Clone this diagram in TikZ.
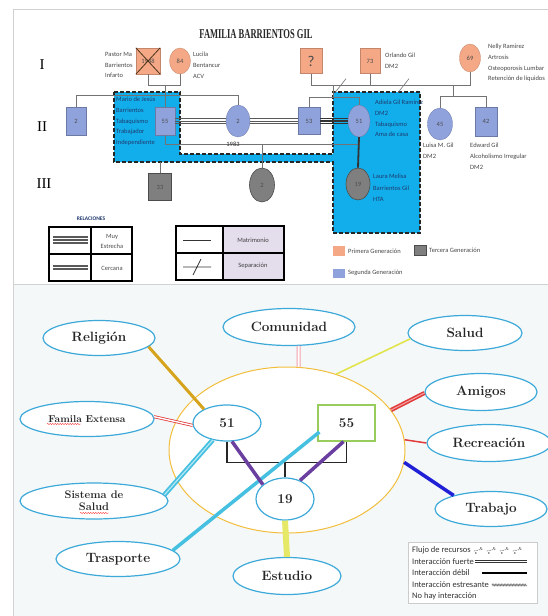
\documentclass[tikz,border=0pt]{standalone}
\usepackage{fontspec}
\newfontfamily\calibri{Carlito}
\newfontfamily\timesfont{Liberation Serif}
\usetikzlibrary{positioning, shapes.geometric, decorations.pathmorphing, calc}

\definecolor{salmon}{HTML}{F4A886}
\definecolor{lilac}{HTML}{8FA2DC}
\definecolor{stone}{HTML}{7F7F7F}
\definecolor{cyanbox}{HTML}{12AEEB}
\definecolor{navy}{HTML}{1F3A6E}
\definecolor{lavender}{HTML}{E4DDEC}
\definecolor{panelbg}{HTML}{F4F8F9}
\definecolor{ecoblue}{HTML}{3DA9D9}
\definecolor{ecogold}{HTML}{F2BE3C}
\definecolor{ecogreen}{HTML}{98CC5C}
\definecolor{relgold}{HTML}{D6A31C}
\definecolor{ecored}{HTML}{E23B3B}
\definecolor{ecopink}{HTML}{F2A2AA}
\definecolor{ecoyellow}{HTML}{E2E44C}
\definecolor{ecoteal}{HTML}{45C0E0}
\definecolor{ecopurple}{HTML}{6B3FA0}
\definecolor{workblue}{HTML}{2020D6}

\newcommand{\notefont}{\calibri\fontsize{6.5}{10.7}\selectfont}
\newcommand{\ecofont}{\bfseries\fontsize{13.5}{14}\selectfont}
\newcommand{\keyfont}{\calibri\fontsize{8.5}{9}\selectfont}

\begin{document}
\begin{tikzpicture}[
    x=1pt, y=-1pt,
    % genogram styles
    person/.style={inner sep=0pt, font=\calibri\fontsize{6.5}{7}\selectfont, text=black!70},
    male/.style={person, rectangle, minimum width=20pt, minimum height=28pt},
    female/.style={person, ellipse, minimum width=24pt, minimum height=32pt},
    gen1/.style={fill=salmon, draw=salmon!80!black, line width=.3pt},
    gen2/.style={fill=lilac, draw=lilac!75!black, line width=.3pt},
    gen3/.style={fill=stone, draw=stone!60!black, line width=.6pt},
    note/.style={anchor=north west, inner sep=0pt, align=left, font=\notefont, text=black!72},
    boxnote/.style={note, text=navy},
    kin/.style={draw=black!55, line width=.6pt},
    close/.style={draw=black!65, line width=.9pt},
    swatch/.style={minimum width=12pt, minimum height=10pt, inner sep=0pt},
    % ecomap styles
    eco/.style={ellipse, draw=ecoblue, line width=1.2pt, fill=white, inner sep=0pt, text=black!85, font=\ecofont, align=center},
    keyline/.style={anchor=west, inner sep=0pt, font=\keyfont, text=black!80}
]
\useasboundingbox (0,0) rectangle (548,616);

% panels
\draw[black!18, fill=white] (13,9) rectangle (560,284.5);
\fill[panelbg] (13,285) rectangle (548,616);
\draw[black!18] (13,285) -- (13,616);

% ---------------- genogram ----------------
\node[text=black!85] (title) at (256,34) {\scalebox{0.63}[1]{\timesfont\bfseries\fontsize{13.5}{14}\selectfont FAMILIA BARRIENTOS GIL}};
\node (genI) at (42,65) {\timesfont\fontsize{15}{15}\selectfont I};
\node (genII) at (42,127) {\timesfont\fontsize{15}{15}\selectfont II};
\node (genIII) at (44,184) {\timesfont\fontsize{15}{15}\selectfont III};

% shaded block round the core couple
\draw[fill=cyanbox, draw=black!85, line width=1.5pt, dash pattern=on 4pt off 2pt]
    (114,92) -- (180,92) -- (180,154) -- (333,154) -- (333,92) -- (420,92)
    -- (420,233) -- (333,233) -- (333,162) -- (114,162) -- cycle;

% first generation
\node[male, gen1, minimum width=24pt, minimum height=26pt] (pastor) at (148,61) {1948};
\node[female, gen1, minimum width=21pt, minimum height=26pt] (lucila) at (180,61) {84};
\node[male, gen1, minimum width=22pt, minimum height=25pt, font=\calibri\fontsize{15}{15}\selectfont] (unknown) at (311,61) {?};
\node[male, gen1, minimum width=20pt, minimum height=25pt] (orlando) at (370,61) {73};
\node[female, gen1, minimum width=21pt, minimum height=28pt] (nelly) at (470,58) {69};
\draw[black!60!brown, line width=.8pt] (pastor.north west) -- (pastor.south east)
    (pastor.north east) -- (pastor.south west);

% second generation
\node[male, gen2] (s2) at (76,121) {2};
\node[male, gen2] (s55) at (165,121) {55};
\node[female, gen2] (f2) at (238,121) {2};
\node[male, gen2, minimum width=22pt, minimum height=27pt] (s53) at (309,121) {53};
\node[female, gen2, minimum width=22pt] (f51) at (359,121) {51};
\node[female, gen2, minimum width=25pt] (f45) at (440,124) {45};
\node[male, gen2, minimum width=22pt, minimum height=29pt] (s42) at (486,121.5) {42};

% third generation
\node[male, gen3, minimum width=23pt, minimum height=27pt] (s33) at (160,187) {33};
\node[female, gen3, minimum width=25pt, minimum height=34pt] (g2) at (262,185) {2};
\node[female, gen3] (g19) at (358,184) {19};

% family lines
\draw[kin] (pastor.south) -- ++(0,11) coordinate (pl) -| (lucila.south);
\draw[kin] (pl -| s55.north) -- (s55.north);
\draw[kin] (s2.north) -- ++(0,-12) -| (f2.north);
\draw[kin] (unknown.south) -- ++(0,12) coordinate (ol) -| (nelly.south);
\draw[kin] (orlando.south) -- (orlando.south |- ol);
\draw[kin] ($(ol)+(24,7)$) -- ++(11,-14);
\draw[kin] ($(ol)+(87,7)$) -- ++(11,-14);
\draw[kin] ($(ol)+(22,0)$) -- ++(0,11.5) coordinate (sb);
\draw[kin] (s53.north) |- (sb) -| (f51.north);
\draw[kin] ($(ol)+(142,0)$) -- ++(0,11) coordinate (nb);
\draw[kin] (f45.north) |- (nb) -| (s42.north);
\draw[kin] (s55.south) -- ++(0,9) coordinate (ml) -| (f51.south);
\draw[kin] (g2.north) -- (g2.north |- ml);
\draw[line width=1.8pt, black!80] (f51.south) -- (g19.north);
\coordinate (boxfoot) at (160,162);
\draw[kin] (boxfoot) -- (s33.north);
\foreach \d in {-2.6,0,2.6} {
    \draw[close] ([yshift=\d pt]s55.east) -- ([yshift=\d pt]f2.west);
    \draw[close] ([yshift=\d pt]f2.east) -- ([yshift=\d pt]s53.west);
    \draw[close, draw=black!80, line width=1.2pt] ([yshift=\d pt]s53.east) -- ([yshift=\d pt]f51.west);
}
\node[person, text=black!80] (year) at (233,144) {1983};

% names and conditions
\node[note] (pastorinfo) at (105,52) {Pastor Ma\\Barrientos\\Infarto};
\node[note] (lucilainfo) at (193,52) {Lucila\\Bentancur\\ACV};
\node[note] (orlandoinfo) at (385,53) {Orlando Gil\\DM2};
\node[note] (nellyinfo) at (488,44) {Nelly Ramirez\\Artrosis\\Osteoporosis Lumbar\\Retención de líquidos};
\node[boxnote] (marioinfo) at (116,97) {Mario de Jesús\\Barrientos\\Tabaquismo\\Trabajador\\Independiente};
\node[boxnote] (adielainfo) at (375,100) {Adiela Gil Ramírez\\DM2\\Tabaquismo\\Ama de casa};
\node[note] (luisainfo) at (423,143) {Luisa M. Gil\\DM2};
\node[note] (edwardinfo) at (470,143) {Edward Gil\\Alcoholismo Irregular\\DM2};
\node[boxnote, font=\calibri\fontsize{6.5}{11.5}\selectfont] (laurainfo) at (373,174) {Laura Melisa\\Barrientos Gil\\HTA};

% relations key
\node[font=\calibri\bfseries\fontsize{5.5}{6}\selectfont, text=navy] (relkey) at (91,219) {RELACIONES};
\draw[line width=1.3pt] (49,227) rectangle (132,281) (91,227) -- (91,281) (49,254) -- (132,254);
\foreach \y in {237,240,243} \draw[black!65, line width=1.1pt] (53,\y) -- (88,\y);
\foreach \y in {266,269} \draw[black!65, line width=1.1pt] (53,\y) -- (88,\y);
\node[font=\calibri\fontsize{6.5}{10}\selectfont, text=black!70, align=center] (muy) at (112,241) {Muy\\Estrecha};
\node[font=\calibri\fontsize{6.5}{7}\selectfont, text=black!70] (cercana) at (112,268) {Cercana};

\fill[lavender] (223,226) rectangle (284,280);
\draw[line width=1.3pt] (176,226) rectangle (284,280) (223,226) -- (223,280) (176,253) -- (284,253);
\draw[black!80, line width=.8pt] (183,240) -- (211,240);
\draw[black!80, line width=.8pt] (183,267) -- (211,267) (193,275) -- (201,259);
\node[font=\calibri\fontsize{6.5}{7}\selectfont, text=black!75] (matri) at (253,240) {Matrimonio};
\node[font=\calibri\fontsize{6.5}{7}\selectfont, text=black!75] (separa) at (253,266) {Separación};

% generation key
\node[swatch, fill=salmon] (firstsw) at (339,251) {};
\node[note, anchor=west] (firstkey) at (348,251) {Primera Generación};
\node[swatch, fill=stone, draw=stone!60!black] (thirdsw) at (420,250.5) {};
\node[note, anchor=west] (thirdkey) at (429,250) {Tercera Generación};
\node[swatch, fill=lilac, minimum height=9pt] (secondsw) at (339,273.5) {};
\node[note, anchor=west] (secondkey) at (348,273) {Segunda Generación};

% ---------------- ecomap ----------------
\node[ellipse, draw=ecogold, line width=1pt, fill=white, minimum width=236pt, minimum height=166pt] (ring) at (287,450) {};

\node[eco, minimum width=112pt, minimum height=35pt] (relig) at (99,338) {Religión};
\node[eco, minimum width=134pt, minimum height=35pt, font=\bfseries\fontsize{10}{11}\selectfont] (famext) at (87,419) {Famila Extensa};
\node[eco, minimum width=132pt, minimum height=37pt] (comun) at (289,327) {Comunidad};
\node[eco, minimum width=114pt, minimum height=35pt] (salud) at (465,333) {Salud};
\node[eco, minimum width=112pt, minimum height=37pt] (amigos) at (481,392) {Amigos};
\node[eco, minimum width=124pt, minimum height=37pt] (recre) at (489,443) {Recreación};
\node[eco, minimum width=112pt, minimum height=35pt] (trabajo) at (491,509) {Trabajo};
\node[eco, minimum width=108pt, minimum height=37pt] (estudio) at (287,576) {Estudio};
\node[eco, minimum width=124pt, minimum height=35pt] (traspo) at (118,559) {Trasporte};
\node[eco, minimum width=148pt, minimum height=36pt, font=\bfseries\fontsize{11}{12}\selectfont] (sissal) at (94,501) {Sistema de\\Salud};
\node[eco, minimum width=68pt, minimum height=36pt] (n51) at (227,423) {51};
\node[rectangle, draw=ecogreen, line width=1.2pt, fill=white, minimum width=57pt, minimum height=36pt, font=\ecofont, text=black!85] (n55) at (346.5,423) {55};
\node[eco, minimum width=58pt, minimum height=42pt] (n19) at (285,499) {19};

% spelling marks under the text
\draw[red!80, line width=.4pt, decorate, decoration={snake, amplitude=.6pt, segment length=2.5pt}]
    ([shift={(-40,5)}]famext.center) -- ([shift={(-6,5)}]famext.center);
\draw[red!80, line width=.4pt, decorate, decoration={snake, amplitude=.6pt, segment length=2.5pt}]
    ([shift={(-14,12)}]sissal.center) -- ([shift={(15,12)}]sissal.center);

% household
\draw[black!85, line width=1.3pt] (n51.south) -- ++(0,21) coordinate (bar) -| (n55.south);
\draw[black!85, line width=1.3pt] (n19.north) -- (n19.north |- bar);

% ties to the outside
\draw[relgold, line width=3pt] (relig.-10) -- (n51.149);
\draw[ecored, double=white, double distance=1.4pt, line width=.8pt] (famext.2) -- (n51.184);
\draw[ecopink, double=white, double distance=2pt, line width=1pt] (comun.-63) -- (ring.82);
\draw[ecoyellow, line width=1.6pt] (salud.186) -- (ring.57);
\draw[ecored, double=ecored!45, double distance=1pt, line width=1.6pt] (amigos.181) -- (ring.21);
\draw[ecored, line width=1.5pt] (ring.5) -- (recre.west);
\draw[workblue, line width=3.5pt] (ring.-6) -- (trabajo.160);
\draw[ecoyellow!85!white, line width=6pt] (n19.south) -- (estudio.north);
\draw[ecoteal, double=ecoteal!40, double distance=1.2pt, line width=1.8pt] (n51.230) -- (sissal.5);
\draw[ecoteal, line width=3.5pt] (traspo.9) -- ([shift={(2,9)}]n55.west);
\draw[ecopurple, line width=3.5pt] (n51.-75) -- (n19.147);
\draw[ecopurple, line width=3.5pt] ([xshift=-3pt]n55.south) -- (n19.51);

% key of the lines
\draw[black!20, fill=white] (408,542) rectangle (537,603);
\node[keyline] (keyflow) at (412,550) {Flujo de recursos};
\node[keyline] (keystrong) at (412,561.5) {Interacción fuerte};
\node[keyline] (keyweak) at (412,573) {Interacción débil};
\node[keyline] (keystress) at (412,585) {Interacción estresante};
\node[keyline] (keynone) at (412,596.5) {No hay interacción};
\foreach \i in {0,...,3} {
    \draw[black!70, line width=.5pt, dash pattern=on 1.5pt off 1pt] ($(keyflow.east)+(3+13*\i,1)$) -- ++(9,-2);
    \fill[black!85] ($(keyflow.east)+(5+13*\i,3)$) circle (.8pt);
    \fill[black!85] ($(keyflow.east)+(10+13*\i,-2)$) circle (.8pt);
}
\draw[black!80, double=white, double distance=1pt, line width=.6pt] ($(keystrong.east)+(1,0)$) -- (527,561.5);
\draw[black, line width=1.6pt] ($(keyweak.east)+(12,0)$) -- (527,573);
\draw[black!55, line width=.5pt, decorate, decoration={zigzag, amplitude=1pt, segment length=1.5pt}] ($(keystress.east)+(3,0)$) -- (527,585);
\end{tikzpicture}
\end{document}
